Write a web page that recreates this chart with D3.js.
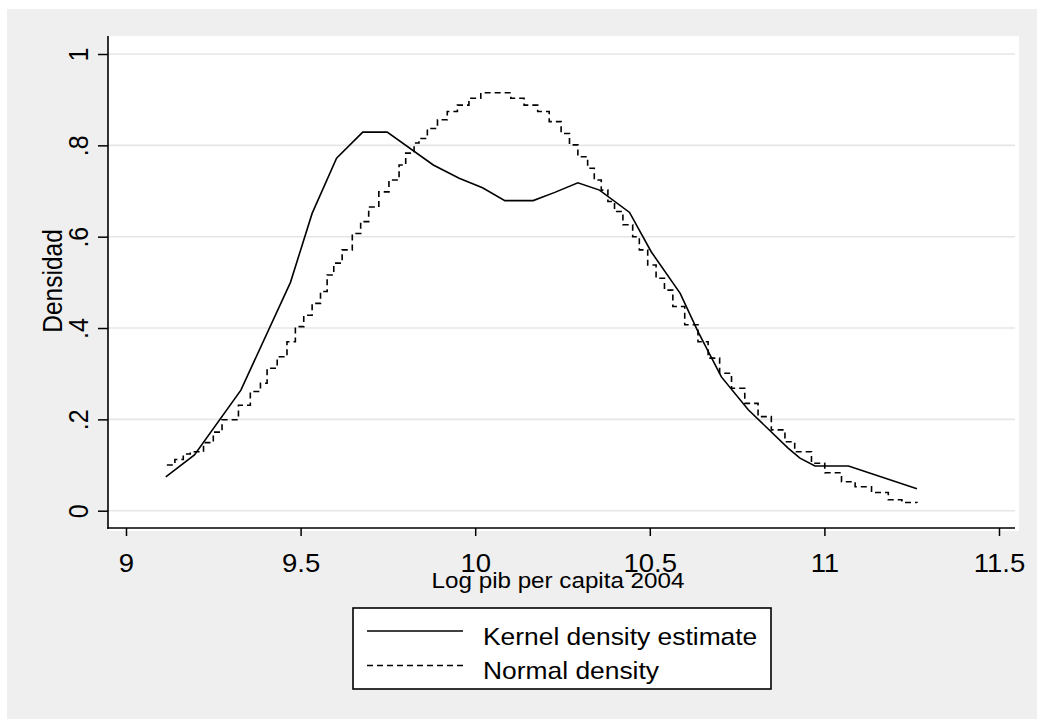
<!DOCTYPE html>
<html>
<head>
<meta charset="utf-8">
<script src="https://cdn.jsdelivr.net/npm/d3@7"></script>
<style>
  body { margin: 0; background: #fff; }
  text { font-family: "Liberation Sans", Arial, sans-serif; fill: #000; }
</style>
</head>
<body>
<div id="wrapper"></div>
<script>
// kernel density estimate (solid line)
const kernelX = [9.114, 9.196, 9.329, 9.471, 9.533, 9.603, 9.678, 9.748, 9.88, 9.954,
  10.021, 10.085, 10.166, 10.228, 10.294, 10.356, 10.442, 10.504, 10.587, 10.638,
  10.705, 10.782, 10.896, 10.93, 10.973, 11.069, 11.265];
const kernelY = [0.074, 0.122, 0.264, 0.500, 0.651, 0.772, 0.829, 0.829, 0.757, 0.728,
  0.707, 0.679, 0.679, 0.697, 0.718, 0.702, 0.653, 0.567, 0.476, 0.392,
  0.293, 0.221, 0.137, 0.115, 0.098, 0.098, 0.048];

// normal density (dashed stair-step line)
const normalX = [9.117, 9.14, 9.164, 9.184, 9.222, 9.25, 9.275, 9.322, 9.356, 9.385,
  9.404, 9.433, 9.461, 9.485, 9.509, 9.533, 9.557, 9.576, 9.595, 9.619,
  9.648, 9.672, 9.695, 9.724, 9.753, 9.782, 9.801, 9.825, 9.839, 9.863,
  9.892, 9.920, 9.949, 9.982, 10.016, 10.064, 10.102, 10.140, 10.179, 10.212,
  10.246, 10.270, 10.294, 10.322, 10.341, 10.361, 10.380, 10.399, 10.423, 10.451,
  10.470, 10.494, 10.518, 10.542, 10.566, 10.600, 10.638, 10.667, 10.700, 10.734,
  10.772, 10.810, 10.848, 10.887, 10.915, 10.963, 11.001, 11.049, 11.088, 11.135,
  11.183, 11.222, 11.265];
const normalY = [0.100, 0.112, 0.124, 0.129, 0.149, 0.172, 0.199, 0.231, 0.261, 0.279,
  0.312, 0.337, 0.370, 0.403, 0.428, 0.454, 0.480, 0.516, 0.542, 0.571,
  0.607, 0.633, 0.665, 0.698, 0.724, 0.757, 0.783, 0.805, 0.815, 0.837,
  0.856, 0.874, 0.888, 0.903, 0.915, 0.915, 0.903, 0.888, 0.874, 0.852,
  0.826, 0.801, 0.775, 0.750, 0.724, 0.702, 0.677, 0.655, 0.626, 0.600,
  0.571, 0.538, 0.509, 0.483, 0.447, 0.407, 0.370, 0.334, 0.301, 0.268,
  0.235, 0.206, 0.177, 0.151, 0.129, 0.104, 0.083, 0.0635, 0.0526, 0.040,
  0.024, 0.018, 0.017];

const xTicks = [9, 9.5, 10, 10.5, 11, 11.5];
const yTicks = [0, 0.2, 0.4, 0.6, 0.8, 1];
const yTickLabels = ["0", ".2", ".4", ".6", ".8", "1"];
const legendLabels = ["Kernel density estimate", "Normal density"];
const xTitle = "Log pib per capita 2004";
const yTitle = "Densidad";

const kernel = kernelX.map((x, i) => ({ x, y: kernelY[i] }));
const normal = normalX.map((x, i) => ({ x, y: normalY[i] }));

const width = 1037;
const height = 719;
const sx = 1.1; // the original is slightly stretched sideways
const plot = { left: 108, right: 1015, top: 36, bottom: 528 };

const svg = d3.select("#wrapper").append("svg")
  .attr("width", width)
  .attr("height", height);

// backgrounds
svg.append("rect").attr("x", 7).attr("y", 9)
  .attr("width", width - 7).attr("height", height - 9)
  .attr("fill", "#efefef");
svg.append("rect").attr("x", plot.left).attr("y", plot.top)
  .attr("width", 1019 - plot.left).attr("height", 531 - plot.top)
  .attr("fill", "#fff");

const x = d3.scaleLinear().domain([9, 11.5]).range([126, 999]);
const y = d3.scaleLinear().domain([0, 1]).range([510.7, 54]);

// gridlines
svg.append("g").selectAll("line").data(yTicks).join("line")
  .attr("x1", plot.left).attr("x2", plot.right)
  .attr("y1", (d) => y(d)).attr("y2", (d) => y(d))
  .attr("stroke", "#e6e6e6").attr("stroke-width", 1.6);

// y axis
const yAxis = svg.append("g")
  .attr("transform", `translate(${plot.left},0)`)
  .call(d3.axisLeft(y).tickValues(yTicks).tickSize(10).tickSizeOuter(0)
    .tickFormat((d, i) => yTickLabels[i]));
yAxis.select(".domain").remove();
yAxis.selectAll("line").attr("stroke", "#000").attr("stroke-width", 1.5);
yAxis.selectAll("text")
  .attr("x", null).attr("dy", null)
  .attr("text-anchor", "middle")
  .attr("font-size", 25)
  .attr("transform", `translate(-20,0) scale(${sx},1) rotate(-90)`);
svg.append("line")
  .attr("x1", plot.left).attr("x2", plot.left)
  .attr("y1", plot.top).attr("y2", plot.bottom + 0.75)
  .attr("stroke", "#000").attr("stroke-width", 1.6);

// x axis
const xAxis = svg.append("g")
  .attr("transform", `translate(0,${plot.bottom})`)
  .call(d3.axisBottom(x).tickValues(xTicks).tickSize(8).tickSizeOuter(0)
    .tickFormat(d3.format("")));
xAxis.select(".domain").remove();
xAxis.selectAll("line").attr("stroke", "#000").attr("stroke-width", 1.5);
xAxis.selectAll("text")
  .attr("y", null).attr("dy", null)
  .attr("font-size", 25)
  .attr("transform", `translate(0,44) scale(${sx},1)`);
svg.append("line")
  .attr("x1", plot.left - 0.75).attr("x2", plot.right)
  .attr("y1", plot.bottom).attr("y2", plot.bottom)
  .attr("stroke", "#000").attr("stroke-width", 1.6);

// axis titles
svg.append("text")
  .attr("text-anchor", "middle")
  .attr("font-size", 22)
  .attr("transform", `translate(558,588) scale(${sx},1)`)
  .text(xTitle);
svg.append("text")
  .attr("text-anchor", "middle")
  .attr("font-size", 24.5)
  .attr("transform", `translate(61.5,281) scale(${sx},1) rotate(-90)`)
  .text(yTitle);

// curves
const kernelLine = d3.line().x((d) => x(d.x)).y((d) => y(d.y));
const normalLine = d3.line().x((d) => x(d.x)).y((d) => y(d.y)).curve(d3.curveStepAfter);

svg.append("path").datum(normal)
  .attr("d", normalLine)
  .attr("fill", "none").attr("stroke", "#000")
  .attr("stroke-width", 1.6).attr("stroke-dasharray", "6,4");
svg.append("path").datum(kernel)
  .attr("d", kernelLine)
  .attr("fill", "none").attr("stroke", "#000")
  .attr("stroke-width", 1.6);

// legend
const legend = svg.append("g");
legend.append("rect")
  .attr("x", 353).attr("y", 608).attr("width", 418).attr("height", 81)
  .attr("fill", "#fff").attr("stroke", "#000").attr("stroke-width", 1.6);
const rows = legend.selectAll(".row").data(legendLabels).join("g")
  .attr("class", "row")
  .attr("transform", (d, i) => `translate(0,${i * 34.5})`);
rows.append("line")
  .attr("x1", 367).attr("x2", 463).attr("y1", 631).attr("y2", 631)
  .attr("stroke", "#000").attr("stroke-width", 1.6)
  .attr("stroke-dasharray", (d, i) => (i ? "6,4" : null));
rows.append("text")
  .attr("font-size", 24)
  .attr("transform", `translate(483,644.5) scale(${sx},1)`)
  .text((d) => d);
</script>
</body>
</html>
